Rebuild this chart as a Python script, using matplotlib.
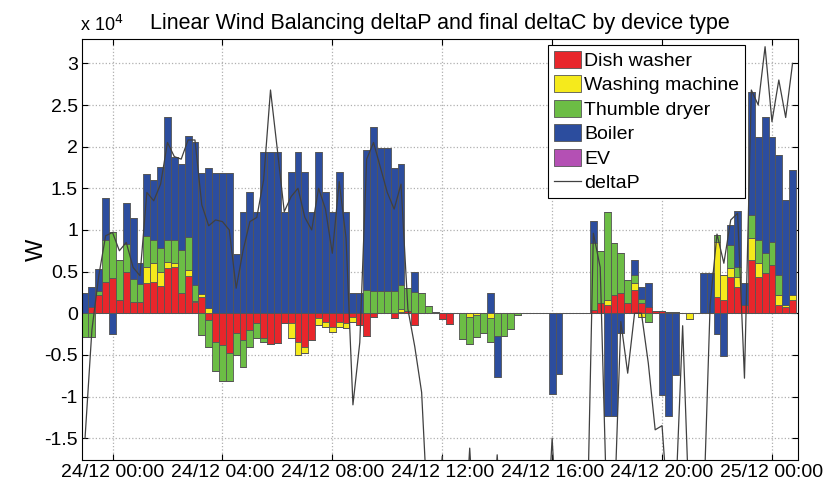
import matplotlib
matplotlib.use("Agg")
import matplotlib.pyplot as plt
import matplotlib.dates as mdates
import numpy as np
import pandas as pd

plt.rcParams['font.family'] = ['Liberation Sans', 'DejaVu Sans']

# 15-minute slots, 24/12 23:00 (previous day) .. 25/12 00:45
times = pd.date_range("2012-12-23 23:00", periods=104, freq="15min")

# values in 10^4 W
dish = [
    0, 0.08, 0.22, 0.37, 0.42, 0.16, 0.50, 0.14, 0.14, 0.36,
    0.38, 0.33, 0.54, 0.56, 0.24, 0.45, 0.13, 0.20, -0.08, -0.34,
    -0.38, -0.48, -0.24, -0.32, -0.20, -0.12, -0.30, -0.37, -0.36, -0.12,
    -0.12, -0.34, -0.40, -0.32, -0.06, -0.10, -0.16, -0.10, -0.12, -0.04,
    -0.14, -0.27, -0.04, 0, 0, -0.06, 0.02, 0.03, -0.14, 0,
    0, 0, -0.07, -0.13, 0, 0, 0, 0, 0, 0,
    0, 0, 0, 0, 0, 0, 0, 0, 0, 0,
    0, 0, 0, 0, 0.04, 0.12, 0.10, 0.22, 0.24, 0.12,
    0.28, 0.12, 0.08, 0.03, 0.03, 0.02, 0.01, 0, 0, 0,
    0, 0, 0.20, 0.16, 0.44, 0.32, 0.10, 0.64, 0.44, 0.48,
    0.58, 0.10, 0.08, 0.16]
wash = [
    0, 0, 0, 0, 0, 0, 0, 0, 0, 0.20,
    0.22, 0.17, 0.08, 0.04, 0, 0.07, 0.02, 0.03, 0.06, 0,
    0, 0, 0, 0, 0, 0, 0, 0, 0, 0,
    -0.18, -0.16, -0.08, 0, -0.08, -0.06, -0.06, -0.07, -0.06, -0.06,
    0, 0, 0, 0, 0, 0, 0.03, 0, 0, 0,
    0, 0, 0, 0, 0, 0, -0.05, -0.02, 0, -0.06,
    0, 0, 0, 0, 0, 0, 0, 0, 0, 0,
    0, 0, 0, 0, 0, 0, 0.06, 0, 0, 0,
    0.08, -0.04, 0, 0, 0, 0, 0, 0, -0.07, 0,
    0, 0, 0.66, 0.30, 0.10, 0.12, 0, 0.26, 0.16, 0,
    0, 0.12, 0.02, 0.06]
dryer = [
    -0.28, -0.28, 0.05, 0.51, 0.55, 0.48, 0.33, 0.27, 0.21, 0.37,
    0.28, 0.28, 0.26, 0.28, 0.52, 0.39, 0.19, -0.26, -0.33, -0.35,
    -0.43, -0.33, -0.26, -0.33, -0.20, -0.18, -0.05, 0, 0, 0,
    0, 0, 0, 0, 0, 0, 0, 0, 0, 0,
    0, 0.28, 0.27, 0.27, 0.27, 0.27, 0.29, 0.27, 0.26, 0.24,
    0.09, 0.02, 0, 0, 0, -0.31, -0.32, -0.26, -0.24, -0.29,
    -0.27, -0.27, -0.19, -0.02, 0, 0, 0, 0, 0, 0,
    0, 0, 0, 0, 0.80, 0.63, 1.06, 0.62, 0.48, 0.28,
    0.10, 0.05, -0.10, 0, 0, 0, 0, 0, 0, 0,
    0, 0, 0.08, 0, 0.28, 0.12, 0, 0.28, 0.28, 0.24,
    0.28, 0.24, 0, 0]
boiler = [
    0.24, 0.24, 0.26, 0.50, -0.25, 0, 0.49, 0.73, 0.25, 0.74,
    0.72, 0.98, 1.47, 0.99, 1.03, 1.22, 1.72, 1.45, 1.68, 1.68,
    1.68, 1.68, 0.71, 1.21, 1.46, 1.21, 1.93, 1.93, 1.93, 1.21,
    1.69, 1.93, 1.69, 1.21, 1.93, 1.46, 1.21, 1.69, 1.21, 0.24,
    0.24, 1.68, 1.96, 1.71, 1.71, 1.47, 1.45, 0, 0.24, 0,
    0, 0, 0, 0, 0, 0, 0, 0, 0, 0.24,
    -0.50, 0, 0, 0, 0, 0, 0, 0, -0.97, -0.73,
    0, 0, 0, 0, 0.27, 0, -1.23, -1.23, -0.24, 0,
    0.18, 0.15, 0.28, 0, -0.98, -1.23, -0.74, 0, 0, 0,
    0.48, 0.48, -0.25, -0.51, 0.24, 0.67, 0.26, 1.48, 1.24, 1.64,
    1.26, 1.44, 1.26, 1.50]
ev = [0] * 104
deltaP = [
    -1.5, -0.2, 0.45, 0.93, 0.97, 0.75, 0.85, 0.55, 0.45, 1.45,
    1.35, 1.55, 2.05, 1.88, 1.85, 2.08, 2.08, 1.3, 1.05, 1.12,
    1.1, 1.0, 0.3, 0.75, 1.1, 1.15, 1.6, 2.68, 1.96, 1.22,
    1.4, 1.5, 1.15, 1.0, 1.5, 1.25, 0.72, 1.58, 0.9, -1.1,
    -0.35, 1.85, 2.05, 1.75, 1.45, 1.25, 1.55, 0.05, -0.4, -0.95,
    -2.6, -3, -1.72, -3, -3, -3, -1.62, -3, -3, -3,
    -1.7, -3, -3, -3, -3, -3, -3, -3, -1.5, -3,
    -3, -3, -3, -3, 0.96, 0.55, -2.5, -2.5, -0.1, -0.72,
    0.0, 0.0, -0.6, -1.4, -1.35, -2.5, -2.2, -0.15, -2.5, -3,
    -2.5, 0.1, 0.95, 0.6, 1.12, 1.2, -0.78, 2.68, 2.5, 3.2,
    2.3, 2.8, 2.35, 3.0]

series = [("Dish washer", dish, "#e8262b"),
          ("Washing machine", wash, "#f5ea1c"),
          ("Thumble dryer", dryer, "#6cbd45"),
          ("Boiler", boiler, "#2c4d9e"),
          ("EV", ev, "#b450b4")]

fig = plt.figure(figsize=(8.38, 4.84), dpi=100)
ax = fig.add_axes([0.098, 0.050, 0.854, 0.869])

x = mdates.date2num(times)
width = 1 / 96
pos_base = np.zeros(len(x))
neg_base = np.zeros(len(x))
handles = []
for name, vals, col in series:
    v = np.array(vals, dtype=float)
    p = np.where(v > 0, v, 0)
    n = np.where(v < 0, v, 0)
    h = ax.bar(x, p, width=width, bottom=pos_base, color=col, edgecolor="#555555",
               linewidth=0.6, label=name, zorder=2)
    ax.bar(x, n, width=width, bottom=neg_base, color=col, edgecolor="#555555",
           linewidth=0.6, zorder=2)
    handles.append(h)
    pos_base += p
    neg_base += n

line, = ax.plot(x, deltaP, color="#404040", lw=0.9, label="deltaP", zorder=3)
handles.append(line)

base = pd.Timestamp("2012-12-24 00:00")
ax.set_xlim(mdates.date2num(base - pd.Timedelta(hours=1.106)),
            mdates.date2num(base + pd.Timedelta(hours=24.94)))
ax.set_ylim(-1.76, 3.29)
ax.set_yticks([-1.5, -1, -0.5, 0, 0.5, 1, 1.5, 2, 2.5, 3])
ax.set_yticklabels(["-1.5", "-1", "-0.5", "0", "0.5", "1", "1.5", "2", "2.5", "3"])
ax.xaxis.set_major_locator(mdates.HourLocator(byhour=[0, 4, 8, 12, 16, 20]))
ax.xaxis.set_major_formatter(mdates.DateFormatter("%d/%m %H:%M"))
ax.tick_params(direction="in", top=True, right=True, labelsize=14, length=4, pad=3)
ax.grid(True, linestyle=":", color="#b0b0b0", linewidth=0.9, zorder=0)
ax.set_axisbelow(True)
for s in ax.spines.values():
    s.set_linewidth(0.8)

ax.set_ylabel("W", fontsize=17)
ax.yaxis.set_label_coords(-0.048, 0.5)
ax.set_title("Linear Wind Balancing deltaP and final deltaC by device type",
             fontsize=15.5, pad=7)
fig.text(0.096, 0.928, r"x 10$^{4}$", fontsize=13, ha="left", va="bottom")

leg = ax.legend(handles=handles, loc="upper right", bbox_to_anchor=(0.889, 0.907),
                bbox_transform=fig.transFigure, fontsize=14, frameon=True,
                fancybox=False, edgecolor="black", framealpha=1,
                labelspacing=0.28, handlelength=1.4, handleheight=0.95,
                handletextpad=0.15, borderpad=0.3, borderaxespad=0)
leg.get_frame().set_linewidth(0.8)

fig.savefig("out.png", dpi=100)
